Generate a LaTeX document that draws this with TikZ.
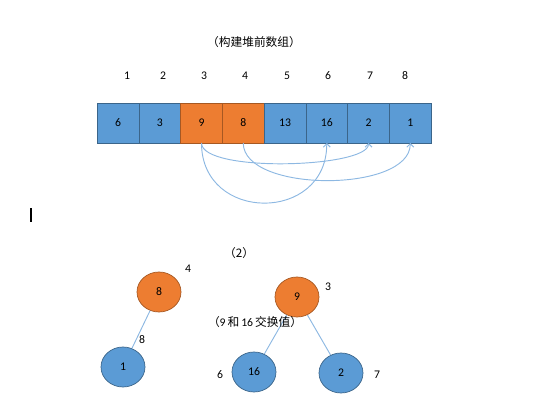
\documentclass[tikz,border=0pt]{standalone}
\usepackage{fontspec}
\setmainfont{Carlito}
\newfontfamily\cjk{Noto Sans CJK SC}
\usepackage{tikz}
\usetikzlibrary{shapes.geometric}
\usetikzlibrary{positioning}
\usetikzlibrary{arrows.meta}
\definecolor{cellblue}{HTML}{5B9BD5}
\definecolor{cellorange}{HTML}{ED7D31}
\definecolor{lineblue}{HTML}{8DB8E2}
\tikzstyle{cell} = [rectangle, minimum width=1.2525cm, minimum height=1.2cm, inner sep=0pt, outer sep=0pt, text centered, draw=cellblue!65!black, fill=cellblue, line width=0.6pt]
\tikzstyle{hotcell} = [cell, draw=cellorange!70!black, fill=cellorange]
\tikzstyle{heap} = [ellipse, minimum width=1.32cm, minimum height=1.2cm, inner sep=0pt, text centered, draw=cellblue!65!black, fill=cellblue, line width=0.6pt]
\tikzstyle{hotheap} = [heap, draw=cellorange!70!black, fill=cellorange]
\tikzstyle{arrow} = [-{Straight Barb[length=3pt,width=6pt]}, draw=lineblue, line width=0.8pt]
\tikzstyle{link} = [draw=lineblue, line width=0.8pt]

\begin{document}
\begin{tikzpicture}[x=0.03cm, y=-0.03cm, node distance=0pt, font=\fontsize{10}{12}\selectfont]
        \useasboundingbox (0,0) rectangle (554,416);

        \node (title) at (254,42) {\cjk （构建堆前数组）};
        \foreach \i/\x in {1/127,2/163,3/204,4/245,5/287,6/328,7/370,8/405}
            \node (idx\i) at (\x,76) {\i};

        \node (a1) [cell] at (118,123) {6};
        \node (a2) [cell, right=of a1] {3};
        \node (a3) [hotcell, right=of a2] {9};
        \node (a4) [hotcell, right=of a3] {8};
        \node (a5) [cell, right=of a4] {13};
        \node (a6) [cell, right=of a5] {16};
        \node (a7) [cell, right=of a6] {2};
        \node (a8) [cell, right=of a7] {1};

        \draw [arrow] (a3.south) .. controls +(0,80) and +(0,80) .. (a6.south);
        \draw [arrow] (a3.south) .. controls +(0,30) and +(0,25) .. (a7.south);
        \draw [arrow] (a4.south) .. controls +(0,50) and +(0,50) .. (a8.south);

        \draw [line width=1.2pt] (31,208) -- (31,222);

        \node (step2) at (239,253) {\cjk （2）};

        \node (t8) [hotheap] at (159,292) {8};
        \node (t1) [heap] at (123,367) {1};
        \node (t9) [hotheap] at (297,297) {9};
        \node (t16) [heap] at (254,372) {16};
        \node (t2) [heap] at (341,373) {2};

        \draw [link] (t8) -- (t1);
        \draw [link] (t9) -- (t16);
        \draw [link] (t9) -- (t2);

        \node (pos8) at (188,269) {4};
        \node (pos1) at (142,340) {8};
        \node (pos9) at (328,287) {3};
        \node (pos16) at (220,375) {6};
        \node (pos2) at (377,375) {7};

        \node (swap) at (255,322) {{\cjk （}9\,{\cjk 和}\,16\,{\cjk 交换值）}};
    \end{tikzpicture}
\end{document}
